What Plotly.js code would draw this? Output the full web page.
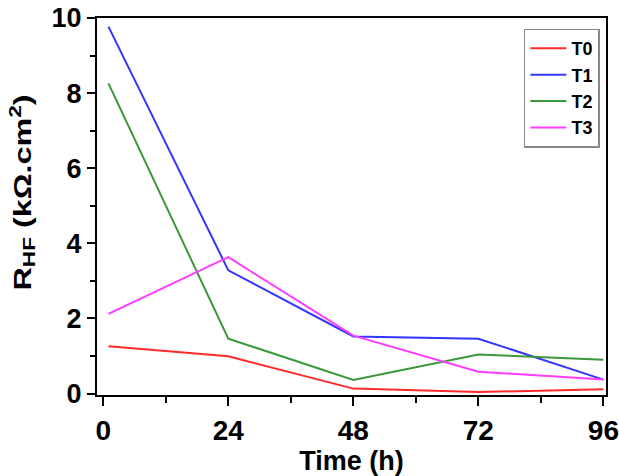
<!DOCTYPE html>
<html>
<head>
<meta charset="utf-8">
<script src="https://cdn.plot.ly/plotly-3.0.1.min.js"></script>
<style>
  html, body { margin: 0; padding: 0; background: #fff; }
  #chart { width: 619px; height: 476px; }
</style>
</head>
<body>
<div id="chart"></div>
<script>
// Sampling times (h)
const timeHours = [1, 24, 48, 72, 96];

// High-frequency resistance R_HF (kΩ.cm²) for each sample
const seriesNames = ['T0', 'T1', 'T2', 'T3'];
const rT0 = [1.26, 0.99, 0.13, 0.04, 0.11];
const rT1 = [9.77, 3.28, 1.52, 1.46, 0.37];
const rT2 = [8.26, 1.46, 0.36, 1.04, 0.90];
const rT3 = [2.12, 3.63, 1.54, 0.58, 0.37];

const xTickVals = [0, 24, 48, 72, 96];
const xTickText = ['0', '24', '48', '72', '96'];
const yTickVals = [0, 2, 4, 6, 8, 10];
const yTickText = ['0', '2', '4', '6', '8', '10'];

const seriesValues = [rT0, rT1, rT2, rT3];
const seriesColors = ['#ff2a2a', '#3535ff', '#3a973a', '#ff3cff'];

const FONT = 'Liberation Sans, Arial, sans-serif';

const traces = seriesValues.map((vals, i) => ({
  x: timeHours,
  y: vals,
  name: seriesNames[i],
  type: 'scatter',
  mode: 'lines',
  line: { color: seriesColors[i], width: 2 }
}));

const layout = {
  width: 619,
  height: 476,
  margin: { l: 97, r: 13, t: 18, b: 81 },
  paper_bgcolor: '#ffffff',
  plot_bgcolor: '#ffffff',
  font: { family: FONT, color: '#000', weight: 'bold' },
  showlegend: true,
  legend: {
    x: 0.988, y: 0.972, xanchor: 'right', yanchor: 'top',
    bgcolor: '#ffffff',
    bordercolor: '#888888',
    borderwidth: 1.5,
    font: { family: FONT, size: 18, color: '#000', weight: 'bold' },
    tracegroupgap: 0,
    itemwidth: 36
  },
  xaxis: {
    range: [-1.2, 96.5],
    tickmode: 'array',
    tickvals: xTickVals,
    ticktext: xTickText,
    ticks: 'outside',
    ticklen: 9,
    tickwidth: 2,
    tickcolor: '#000',
    minor: { dtick: 12, tick0: 0, ticks: 'outside', ticklen: 6, tickwidth: 2, tickcolor: '#000' },
    showline: true,
    linecolor: '#000',
    linewidth: 2,
    mirror: true,
    showgrid: false,
    zeroline: false,
    tickfont: { family: FONT, size: 28, color: '#000', weight: 'bold' },
    title: {
      text: 'Time (h)',
      font: { family: FONT, size: 27, color: '#000', weight: 'bold' },
      standoff: 14
    }
  },
  yaxis: {
    range: [-0.04, 10.0],
    tickmode: 'array',
    tickvals: yTickVals,
    ticktext: yTickText,
    ticks: 'outside',
    ticklen: 8,
    tickwidth: 2,
    tickcolor: '#000',
    minor: { dtick: 1, tick0: 0, ticks: 'outside', ticklen: 5, tickwidth: 2, tickcolor: '#000' },
    showline: true,
    linecolor: '#000',
    linewidth: 2,
    mirror: true,
    showgrid: false,
    zeroline: false,
    tickfont: { family: FONT, size: 27, color: '#000', weight: 'bold' },
    title: {
      text: 'R<sub>HF</sub> (kΩ.cm<sup>2</sup>)',
      font: { family: FONT, size: 23, color: '#000', weight: 'bold' },
      standoff: 14
    }
  }
};

Plotly.newPlot('chart', traces, layout, { displayModeBar: false, staticPlot: true }).then(gd => {
  // Lengthen the rotated y title along its baseline and lift it a little
  const t = gd.querySelector('.g-ytitle text');
  if (t) {
    t.setAttribute('textLength', '196');
    t.setAttribute('lengthAdjust', 'spacingAndGlyphs');
    const tr = t.getAttribute('transform') || '';
    t.setAttribute('transform', 'translate(0,-14) ' + tr);
  }
});
</script>
</body>
</html>
